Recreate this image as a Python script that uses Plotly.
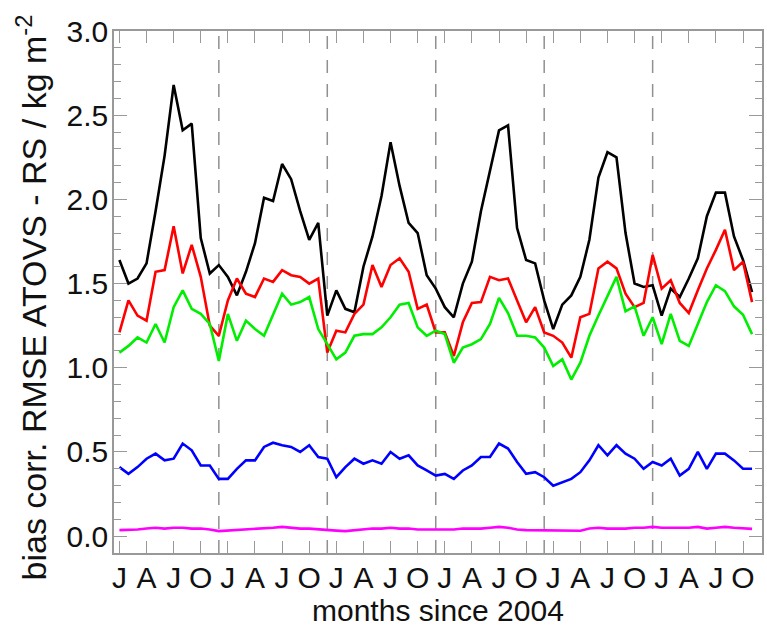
import plotly.graph_objects as go

months = list(range(1, 72))

black = [1.64, 1.50, 1.53, 1.62, 1.93, 2.26, 2.68, 2.41, 2.45, 1.77,
         1.56, 1.61, 1.54, 1.43, 1.57, 1.74, 2.01, 1.99, 2.21, 2.12,
         1.93, 1.76, 1.86, 1.31, 1.46, 1.35, 1.33, 1.60, 1.78, 2.02,
         2.34, 2.08, 1.86, 1.80, 1.55, 1.47, 1.36, 1.30, 1.50, 1.63,
         1.93, 2.18, 2.41, 2.44, 1.83, 1.64, 1.62, 1.40, 1.23, 1.375,
         1.43, 1.54, 1.76, 2.13, 2.28, 2.25, 1.80, 1.50, 1.48, 1.49,
         1.31, 1.47, 1.42, 1.53, 1.65, 1.90, 2.04, 2.04, 1.78, 1.64, 1.45]

red = [1.21, 1.40, 1.31, 1.28, 1.57, 1.58, 1.84, 1.56, 1.73, 1.54,
       1.25, 1.19, 1.40, 1.53, 1.44, 1.42, 1.53, 1.51, 1.58, 1.55,
       1.54, 1.50, 1.53, 1.09, 1.22, 1.21, 1.32, 1.375, 1.61, 1.48,
       1.61, 1.65, 1.57, 1.35, 1.375, 1.21, 1.21, 1.07, 1.27, 1.385,
       1.39, 1.54, 1.52, 1.53, 1.40, 1.27, 1.36, 1.21, 1.19, 1.15,
       1.06, 1.30, 1.32, 1.59, 1.63, 1.59, 1.44, 1.36, 1.385, 1.67,
       1.47, 1.52, 1.385, 1.325, 1.46, 1.59, 1.70, 1.82, 1.58, 1.63, 1.39]

green = [1.09, 1.13, 1.18, 1.15, 1.26, 1.15, 1.36, 1.46, 1.35, 1.32,
         1.26, 1.04, 1.32, 1.16, 1.28, 1.23, 1.19, 1.32, 1.44, 1.375,
         1.39, 1.42, 1.23, 1.14, 1.05, 1.09, 1.19, 1.20, 1.20, 1.24,
         1.30, 1.375, 1.385, 1.24, 1.19, 1.22, 1.20, 1.03, 1.12, 1.14,
         1.17, 1.26, 1.415, 1.325, 1.19, 1.19, 1.18, 1.12, 1.01, 1.05,
         0.93, 1.03, 1.19, 1.31, 1.42, 1.54, 1.335, 1.365, 1.19, 1.30,
         1.14, 1.32, 1.16, 1.13, 1.26, 1.39, 1.49, 1.455, 1.365, 1.315, 1.20]

blue = [0.41, 0.37, 0.41, 0.46, 0.49, 0.45, 0.46, 0.55, 0.51, 0.42,
        0.42, 0.34, 0.34, 0.40, 0.45, 0.45, 0.53, 0.555, 0.54, 0.53,
        0.50, 0.54, 0.47, 0.46, 0.35, 0.41, 0.46, 0.43, 0.45, 0.43,
        0.50, 0.46, 0.48, 0.42, 0.39, 0.36, 0.37, 0.34, 0.39, 0.42,
        0.47, 0.47, 0.55, 0.52, 0.44, 0.37, 0.38, 0.35, 0.30, 0.32,
        0.34, 0.38, 0.45, 0.54, 0.48, 0.54, 0.49, 0.46, 0.40, 0.44,
        0.42, 0.46, 0.36, 0.40, 0.50, 0.40, 0.49, 0.49, 0.45, 0.40, 0.40]

magenta = [0.036, 0.036, 0.040, 0.045, 0.050, 0.045, 0.050, 0.050, 0.045, 0.045,
           0.040, 0.030, 0.033, 0.036, 0.040, 0.040, 0.045, 0.050, 0.055, 0.050,
           0.045, 0.045, 0.040, 0.036, 0.033, 0.030, 0.036, 0.040, 0.045, 0.045,
           0.050, 0.045, 0.045, 0.040, 0.040, 0.036, 0.036, 0.040, 0.045, 0.045,
           0.045, 0.050, 0.055, 0.050, 0.040, 0.036, 0.036, 0.036, 0.036, 0.036,
           0.033, 0.032, 0.045, 0.050, 0.045, 0.045, 0.045, 0.050, 0.050, 0.055,
           0.050, 0.050, 0.050, 0.050, 0.055, 0.045, 0.050, 0.055, 0.050, 0.045, 0.043]

tick_months = list(range(1, 71, 3))
tick_letters = ["J", "A", "J", "O"] * 6
year_bounds = [12, 24, 36, 48, 60]
y_ticks = [0.0, 0.5, 1.0, 1.5, 2.0, 2.5, 3.0]

series = [(black, "#000000"), (red, "#ff0000"), (green, "#00ee00"),
          (blue, "#0000ff"), (magenta, "#ff00ff")]

fig = go.Figure()
for vals, col in series:
    fig.add_trace(go.Scatter(x=months, y=vals, mode="lines",
                             line=dict(color=col, width=2.6), showlegend=False))

for b in year_bounds:
    fig.add_shape(type="line", x0=b, x1=b, y0=0, y1=1, xref="x", yref="paper",
                  line=dict(color="#909090", width=1.5, dash="13px,11px"), layer="below")

FONT = "Liberation Sans, Arial, sans-serif"
AX = "#999999"

fig.update_layout(
    width=767, height=634,
    margin=dict(l=114, r=5, t=31, b=81, autoexpand=False),
    plot_bgcolor="white", paper_bgcolor="white",
    font=dict(family=FONT, size=30, color="#111111"),
    xaxis=dict(range=[0.4, 72.1], tickvals=tick_months, ticktext=tick_letters,
               automargin=False,
               showgrid=False, zeroline=False, showline=True, linecolor=AX, linewidth=1.5,
               mirror="allticks", ticks="inside", ticklen=12, tickcolor=AX, tickwidth=1.2,
               tickfont=dict(size=30), ticklabelstandoff=-3),
    yaxis=dict(range=[-0.1, 3.0], tickvals=y_ticks, tickformat=".1f",
               automargin=False,
               showgrid=False, zeroline=False, showline=True, linecolor=AX, linewidth=1.5,
               mirror="allticks", ticks="inside", ticklen=13, tickcolor=AX, tickwidth=1.2,
               tickfont=dict(size=30), ticklabelstandoff=-2,
               minor=dict(dtick=0.1, ticks="inside", ticklen=7, tickcolor=AX, tickwidth=1.2,
                          showgrid=False)),
    annotations=[
        dict(text="bias corr. RMSE ATOVS - RS / kg m<sup>-2</sup>", textangle=-90,
             xref="paper", yref="paper", x=-0.127, y=0.489, xanchor="center",
             yanchor="middle", showarrow=False, font=dict(size=34, family=FONT, color="#111111")),
        dict(text="months since 2004", xref="paper", yref="paper", x=0.5, y=-0.11,
             xanchor="center", yanchor="middle", showarrow=False,
             font=dict(size=30, family=FONT, color="#111111")),
    ],
)

fig.write_html("out.html", config={"displayModeBar": False},
               post_script="document.body.style.margin='0';document.body.style.overflow='hidden';")
